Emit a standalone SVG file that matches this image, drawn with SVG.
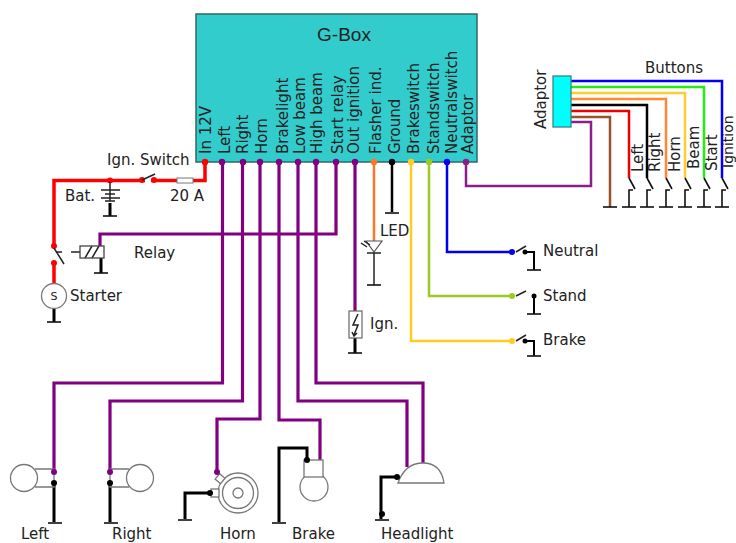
<svg xmlns="http://www.w3.org/2000/svg" width="736" height="543" viewBox="0 0 736 543">
<style>
text{font-family:"DejaVu Sans","Liberation Sans",sans-serif;font-size:15px;fill:#222}
.w{fill:none;stroke-linejoin:miter}
.r{stroke:#f00;stroke-width:3.5}
.p{stroke:#800080;stroke-width:3.2}
.k{stroke:#000;stroke-width:3}
.t{stroke-width:2.5}
.g{stroke:#111;stroke-width:1.6;fill:none}
.o{stroke:#777;stroke-width:1.3;fill:#fff}
.s{stroke:#222;stroke-width:1.5;fill:none}
</style>
<defs>
<path id="gnd" class="g" d="M-7 0H7"/>
<path id="btn" class="g" d="M0 178L6 189M0 207V190H4"/>
</defs>
<g id="connectors">
<g class="w">
<path class="r" d="M205 162V180.500H54V246M54 263V285"/>
<path class="p" d="M336 162V234H100V246"/>
<path class="p" d="M222.500 162V383H54V472"/>
<path class="p" d="M242.500 162V401H110V472"/>
<path class="p" d="M260 162V419H217V472"/>
<path class="p" d="M279 162V420H320V460"/>
<path class="p" d="M298 162V401H407V467"/>
<path class="p" d="M316 162V383H423V463"/>
<path class="p" d="M355 162V312"/>
<path class="k" d="M110 200V216M54 308V322M101 258V273M54 483V522M110 483V522M210 493H185V519M307 460V448H279V522M397 477H381V519M355 338V353"/>
<path class="k t" d="M392 162V212"/>
<path class="t" stroke="#ff7722" d="M374 162V241"/>
<path class="t" stroke="#ffcc22" d="M411 162V341H512"/>
<path class="t" stroke="#99cc22" d="M429 162V296H512"/>
<path class="t" stroke="#0000ee" d="M447 162V252H512"/>
<path class="t" stroke="#8a1f8a" d="M466 162V186H591V122H571"/>
<path class="t" stroke="#0000ff" d="M571 81H722V178"/>
<path class="t" stroke="#22ee11" d="M571 87H704V178"/>
<path class="t" stroke="#ffcc33" d="M571 93H685V178"/>
<path class="t" stroke="#ff8833" d="M571 99H666V178"/>
<path class="t" stroke="#000" d="M571 105H647V178"/>
<path class="t" stroke="#ee0000" d="M571 111H629V178"/>
<path class="t" stroke="#99522a" d="M571 117H610V207"/>
<path class="s" d="M374 253V285"/>
<path class="k" style="stroke-width:2" d="M525 252H534V270M534 296V314M525 341H534V356"/>
</g>
</g>
<g id="g-box">
<rect x="196" y="14" width="281" height="148" fill="#33cccc" stroke="#336666" stroke-width="1.5"/>
<text x="344" y="41" text-anchor="middle" style="font-family:'Liberation Sans',sans-serif;font-size:19px">G-Box</text>
<g>
<text transform="translate(211 154) rotate(-90)">In 12V</text>
<text transform="translate(230 154) rotate(-90)">Left</text>
<text transform="translate(248 154) rotate(-90)">Right</text>
<text transform="translate(267 154) rotate(-90)">Horn</text>
<text transform="translate(288 154) rotate(-90)">Brakelight</text>
<text transform="translate(305 154) rotate(-90)">Low beam</text>
<text transform="translate(322 154) rotate(-90)">High beam</text>
<text transform="translate(343 154) rotate(-90)">Start relay</text>
<text transform="translate(359 154) rotate(-90)">Out ignition</text>
<text transform="translate(381 154) rotate(-90)">Flasher ind.</text>
<text transform="translate(400 154) rotate(-90)">Ground</text>
<text transform="translate(419 154) rotate(-90)">Brakeswitch</text>
<text transform="translate(439 154) rotate(-90)">Standswitch</text>
<text transform="translate(457 154) rotate(-90)">Neutralswitch</text>
<text transform="translate(473 154) rotate(-90)">Adaptor</text>
</g>
<g>
<circle cx="205" cy="162" r="3.200" fill="#f00"/>
<circle cx="222" cy="162" r="3.200" fill="#800080"/>
<circle cx="243" cy="162" r="3.200" fill="#800080"/>
<circle cx="260" cy="162" r="3.200" fill="#800080"/>
<circle cx="279" cy="162" r="3.200" fill="#800080"/>
<circle cx="298" cy="162" r="3.200" fill="#800080"/>
<circle cx="316" cy="162" r="3.200" fill="#800080"/>
<circle cx="336" cy="162" r="3.200" fill="#800080"/>
<circle cx="355" cy="162" r="3.200" fill="#800080"/>
<circle cx="374" cy="162" r="3.200" fill="#ff7722"/>
<circle cx="392" cy="162" r="3.200" fill="#000"/>
<circle cx="411" cy="162" r="3.200" fill="#ffcc22"/>
<circle cx="429" cy="162" r="3.200" fill="#99cc22"/>
<circle cx="447" cy="162" r="3.200" fill="#0000ee"/>
<circle cx="466" cy="162" r="3.200" fill="#8a1f8a"/>
</g>
</g>
<g id="ign-switch">
<text x="107" y="165">Ign. Switch</text>
<circle cx="110" cy="180.500" r="3" fill="#f00"/>
<path d="M145 180.500H151" stroke="#fff" stroke-width="5"/>
<circle cx="142" cy="180" r="3" fill="#f00"/>
<circle cx="154" cy="180" r="3" fill="#f00"/>
<path d="M142 180L155 174" stroke="#222" stroke-width="1.500"/>
</g>
<g id="fuse">
<rect x="177" y="178" width="16" height="5" fill="#fff" stroke="#777"/>
<text x="170" y="201">20 A</text>
</g>
<g id="battery">
<text x="65" y="201">Bat.</text>
<path stroke="#fff" stroke-width="5" d="M110 183V203"/>
<path stroke="#222" stroke-width="1.500" d="M110 182V201M101 190H120M105 194H115M101 198H120M105 201H115"/>
<use href="#gnd" x="110" y="216"/>
</g>
<g id="relay">
<text x="134" y="258">Relay</text>
<circle cx="54" cy="246" r="3" fill="#f00"/>
<circle cx="54" cy="263" r="3" fill="#f00"/>
<path class="s" d="M54 248L64 264M56 252H62M71 252H80M85 258L92 246M92 258L99 246"/>
<rect x="80" y="246" width="24" height="12" fill="none" stroke="#444" stroke-width="1.300"/>
<use href="#gnd" x="101" y="273"/>
</g>
<g id="starter">
<circle cx="54" cy="296" r="12.500" class="o"/>
<text x="54" y="300" text-anchor="middle" style="font-size:11px">S</text>
<text x="70" y="301">Starter</text>
<use href="#gnd" x="54" y="322"/>
</g>
<g id="led">
<text x="380" y="236">LED</text>
<path d="M366 241H382L374 252Z" fill="#fff" stroke="#555" stroke-width="1.200"/>
<path class="s" d="M367 253H381M361 243L367 247M364 241L370 245"/>
<use href="#gnd" x="374" y="285"/>
</g>
<g id="ground-pin"><use href="#gnd" x="392" y="213"/></g>
<g id="ignition">
<rect x="349" y="311" width="13" height="27" fill="#fff" stroke="#666" stroke-width="1.200"/>
<path class="s" d="M358 314L353 325L358 325L354 335M352 332L354 336L357 333"/>
<text x="370" y="329">Ign.</text>
<use href="#gnd" x="355" y="353"/>
</g>
<g id="neutral">
<circle cx="512" cy="252" r="3" fill="#0000ee"/>
<circle cx="525" cy="252" r="2.500"/>
<path class="s" d="M516 252L526 246"/>
<text x="543" y="256">Neutral</text>
<use href="#gnd" x="534" y="270"/>
</g>
<g id="stand">
<circle cx="512" cy="296" r="3" fill="#99cc22"/>
<circle cx="534" cy="296" r="2.500"/>
<path class="s" d="M516 296L526 291"/>
<text x="543" y="301">Stand</text>
<use href="#gnd" x="534" y="314"/>
</g>
<g id="brake-switch">
<circle cx="512" cy="341" r="3" fill="#ffcc22"/>
<circle cx="525" cy="341" r="2.500"/>
<path class="s" d="M516 341L526 335"/>
<text x="543" y="345">Brake</text>
<use href="#gnd" x="534" y="356"/>
</g>
<g id="adaptor">
<rect x="553" y="76" width="18" height="51" fill="#00ffff" stroke="#338888" stroke-width="1.300"/>
<text transform="translate(546 129) rotate(-90)">Adaptor</text>
</g>
<g id="buttons">
<text x="645" y="73">Buttons</text>
<use href="#btn" x="629"/><use href="#gnd" x="629" y="207"/>
<use href="#btn" x="647"/><use href="#gnd" x="647" y="207"/>
<use href="#btn" x="666"/><use href="#gnd" x="666" y="207"/>
<use href="#btn" x="685"/><use href="#gnd" x="685" y="207"/>
<use href="#btn" x="704"/><use href="#gnd" x="704" y="207"/>
<use href="#btn" x="722"/><use href="#gnd" x="722" y="207"/>
<use href="#gnd" x="610" y="207"/>
<text transform="translate(643 172) rotate(-90)">Left</text>
<text transform="translate(660 172) rotate(-90)">Right</text>
<text transform="translate(680 172) rotate(-90)">Horn</text>
<text transform="translate(699 169) rotate(-90)">Beam</text>
<text transform="translate(717 171) rotate(-90)">Start</text>
<text transform="translate(732.500 168) rotate(-90)" style="font-size:14px">Ignition</text>
</g>
<g id="left-lamp">
<path class="o" style="fill:none" d="M35 469H54V487H35"/>
<circle cx="24" cy="478" r="13.500" class="o"/>
<circle cx="54" cy="472" r="3" fill="#800080"/>
<circle cx="54" cy="483" r="3"/>
<text x="21" y="539">Left</text>
<use href="#gnd" x="55" y="523"/>
</g>
<g id="right-lamp">
<path class="o" style="fill:none" d="M129 469H110V487H129"/>
<circle cx="140" cy="478" r="13.500" class="o"/>
<circle cx="110" cy="472" r="3" fill="#800080"/>
<circle cx="110" cy="483" r="3"/>
<text x="112" y="539">Right</text>
<use href="#gnd" x="111" y="523"/>
</g>
<g id="horn">
<circle cx="238" cy="493" r="20" class="o"/>
<circle cx="238" cy="493" r="15.500" class="o"/>
<circle cx="238" cy="493" r="5" class="o"/>
<rect x="211" y="489" width="8" height="8" class="o"/>
<rect x="217" y="475" width="7" height="7" class="o" transform="rotate(40 220 478)"/>
<circle cx="217" cy="472" r="3" fill="#800080"/>
<circle cx="210" cy="493" r="3"/>
<text x="220" y="539">Horn</text>
<use href="#gnd" x="185" y="520"/>
</g>
<g id="brake-lamp">
<circle cx="314" cy="487" r="14" class="o"/>
<rect x="304" y="460" width="19" height="17" class="o"/>
<circle cx="307" cy="460" r="3"/>
<text x="292" y="539">Brake</text>
<use href="#gnd" x="279" y="523"/>
</g>
<g id="headlight">
<path class="o" d="M398 483Q405 463 423 463Q441 463 444 483Z"/>
<circle cx="397" cy="477" r="3"/>
<circle cx="382" cy="514" r="3"/>
<text x="381" y="539">Headlight</text>
<use href="#gnd" x="382" y="520"/>
</g>
</svg>
